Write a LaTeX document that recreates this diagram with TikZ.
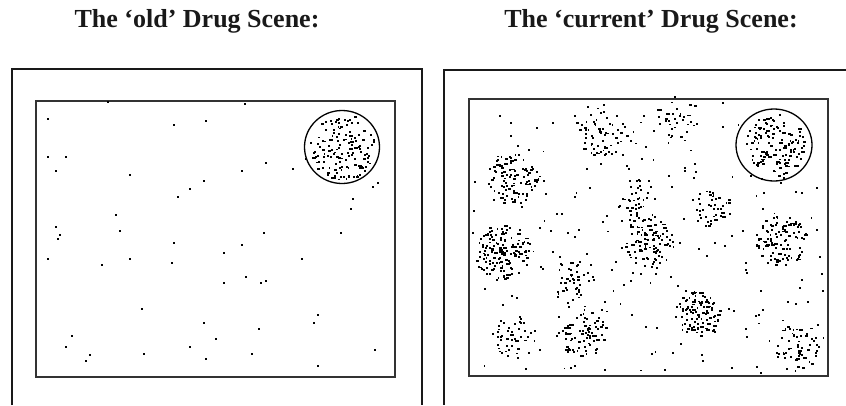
\documentclass[tikz,border=0pt]{standalone}
\usepackage{fontspec}
\setmainfont{Liberation Serif}
\begin{document}
\begin{tikzpicture}[x=1pt,y=-1pt,
  frame/.style={draw=black!90,line width=1.8pt},
  inner/.style={draw=black!80,line width=1.8pt},
  ring/.style={draw=black,line width=1.3pt},
  title/.style={font=\fontsize{26}{30}\selectfont\bfseries,text=black!90,inner sep=0pt}]
\useasboundingbox (0,0) rectangle (846,405);
\fill[white] (0,0) rectangle (846,405);
% titles
\node[title] (t1) at (197,21) {The ‘old’ Drug Scene:};
\node[title] (t2) at (651,21) {The ‘current’ Drug Scene:};
% frames
\draw[frame] (12,405) -- (12,69) -- (422,69) -- (422,405);
\draw[frame] (846,70) -- (444,70) -- (444,405);
\draw[inner] (36,101) rectangle (395,377);
\draw[inner] (469,99) rectangle (828,376);
\draw[ring] (342,147) ellipse (37.5 and 36.5);
\draw[ring] (774,145) ellipse (38 and 36);
% left scattered dots
\foreach \x/\y in {107.7/102.3,244.7/104.3,47.7/118.7,174/125,206/120.7,47.7/157.3,66/157.3,56/171,130/175.3,242.3/171,266.3/163,292.7/168.7,305.7/159.3,204/181,190/189.3,178.3/197,372.7/187,378.3/183,353/198.7,350.7/209,116.3/215,120/231,56/227,59.7/235,58/239.3,264.3/233,340.7/233,174/243.3,242.3/245,224.3/253.3,47.7/259.3,102/265,130/259.3,172/263,302.3/259.3,246.3/277.3,224.3/283.3,260.7/283.3,266.3/281,142/309.3,318.3/315.3,204/323.3,314.3/323.3,258.7/329,72/335.7,216.3/339.3,66/347.3,190/347.3,90/355.3,86.3/361.3,143.7/353.7,206/359.3,252.3/353.7,318.3/365.7,374.7/349.7}
  {\fill (\x-0.9,\y-0.9) rectangle ++(1.9,1.9);}
% left circle cluster
\pgfmathsetseed{7}
\foreach \i in {1,...,140}{
  \pgfmathsetmacro\ang{360*rnd}
  \pgfmathsetmacro\rr{33*sqrt(rnd)}
  \pgfmathsetmacro\w{rnd<0.15 ? 3.4 : 1.9}
  \fill ({342+\rr*cos(\ang)},{147+\rr*sin(\ang)}) rectangle ++(\w,1.9);
}
% right clusters
\pgfmathsetseed{11}
\foreach \cx/\cy/\r/\n in {511.7/178.3/28/95, 501.7/251.7/28/150, 600/130/27/60, 676.7/118/22/32, 636.7/200/22/42, 646.7/243.3/26/95, 710/206.7/20/38, 780/240/26/95, 570/280/23/42, 583.3/333.3/24/75, 513.3/336.7/22/42, 696.7/313.3/23/95, 796.7/346.7/24/62, 774/145/31/120}
{
  \foreach \i in {1,...,\n}{
    \pgfmathsetmacro\ang{360*rnd}
    \pgfmathsetmacro\rr{\r*pow(rnd,0.6)}
    \pgfmathsetmacro\w{rnd<0.2 ? 3.4 : 1.9}
    \fill ({\cx+\rr*cos(\ang)},{\cy+\rr*sin(\ang)}) rectangle ++(\w,1.9);
  }
}
% right background scatter
\foreach \i in {1,...,230}{
  \pgfmathsetmacro\px{472+352*rnd}
  \pgfmathsetmacro\py{102+270*rnd}
  \fill (\px,\py) rectangle ++(1.9,1.9);
}
\end{tikzpicture}
\end{document}
